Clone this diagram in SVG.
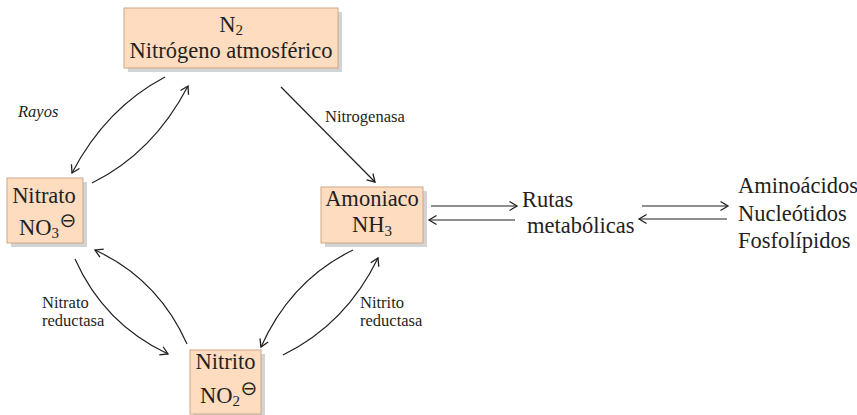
<svg xmlns="http://www.w3.org/2000/svg" width="857" height="415" viewBox="0 0 857 415">
<defs>
<marker id="ah" viewBox="-9 -6 11 12" refX="0" refY="0" markerWidth="11" markerHeight="12" markerUnits="userSpaceOnUse" orient="auto">
<path d="M-7.5,-4.5 L0,0 L-7.5,4.5" fill="none" stroke="#231f20" stroke-width="1.3"/>
</marker>
<style>
.box{fill:#fddcc0;stroke:#cfa686;stroke-width:1}
.sh{fill:#d1d3d4}
.t{font-family:"Liberation Serif","Times New Roman",serif;font-size:22.5px;fill:#231f20}
.m{text-anchor:middle}
.sub{font-size:15px}
.s{font-family:"Liberation Serif","Times New Roman",serif;font-size:16.5px;fill:#231f20}
.ch{font-family:"DejaVu Sans",sans-serif;font-size:20px}
.c{fill:none;stroke:#231f20;stroke-width:1.2;marker-end:url(#ah)}
</style>
</defs>
<rect width="857" height="415" fill="#ffffff"/>

<g id="n2">
<rect class="sh" x="128" y="12" width="214" height="60"/>
<rect class="box" x="124" y="8" width="214" height="60"/>
<text class="t m" x="231" y="32">N<tspan class="sub" dy="3">2</tspan></text>
<text class="t m" x="231" y="58">Nitrógeno atmosférico</text>
</g>

<g id="nitrato">
<rect class="sh" x="11" y="182" width="76" height="65"/>
<rect class="box" x="7" y="178" width="76" height="65"/>
<text class="t m" x="44" y="203">Nitrato</text>
<text class="t" x="19" y="235">NO<tspan class="sub" dy="3">3</tspan><tspan class="ch" dx="0.5" dy="-11">⊖</tspan></text>
</g>

<g id="amoniaco">
<rect class="sh" x="325" y="191" width="102" height="56"/>
<rect class="box" x="321" y="187" width="102" height="56"/>
<text class="t m" x="372" y="206">Amoniaco</text>
<text class="t m" x="372" y="232">NH<tspan class="sub" dy="4">3</tspan></text>
</g>

<g id="nitrito">
<rect class="sh" x="194" y="354" width="71" height="64"/>
<rect class="box" x="190" y="350" width="71" height="64"/>
<text class="t m" x="225.5" y="369">Nitrito</text>
<text class="t" x="200" y="403">NO<tspan class="sub" dy="3">2</tspan><tspan class="ch" dx="0.5" dy="-11">⊖</tspan></text>
</g>

<g id="rutas">
<text class="t" x="522" y="207">Rutas</text>
<text class="t" x="527" y="233">metabólicas</text>
</g>

<g id="productos">
<text class="t" x="738" y="193">Aminoácidos</text>
<text class="t" x="738" y="221">Nucleótidos</text>
<text class="t" x="738" y="248">Fosfolípidos</text>
</g>

<g id="labels">
<text class="s" x="18" y="117" font-style="italic">Rayos</text>
<text class="s" x="325" y="122">Nitrogenasa</text>
<text class="s" x="42" y="308">Nitrato</text>
<text class="s" x="42" y="326">reductasa</text>
<text class="s" x="360" y="308">Nitrito</text>
<text class="s" x="360" y="326">reductasa</text>
</g>

<g id="connectors">
<path class="c" d="M165,77 Q106,108 72,173"/>
<path class="c" d="M92,183 Q153,153 188,86"/>
<path class="c" d="M281,87 L375,182"/>
<path class="c" d="M75,259 Q104,324 168,354"/>
<path class="c" d="M187,344 Q158,279 95,250"/>
<path class="c" d="M283,355 Q346,324 378,258"/>
<path class="c" d="M353,250 Q291,280 261,347"/>
<path class="c" d="M431,206 L517,206"/>
<path class="c" d="M515,220 L429,220"/>
<path class="c" d="M642,206 L728,206"/>
<path class="c" d="M727,219 L639,219"/>
</g>
</svg>
